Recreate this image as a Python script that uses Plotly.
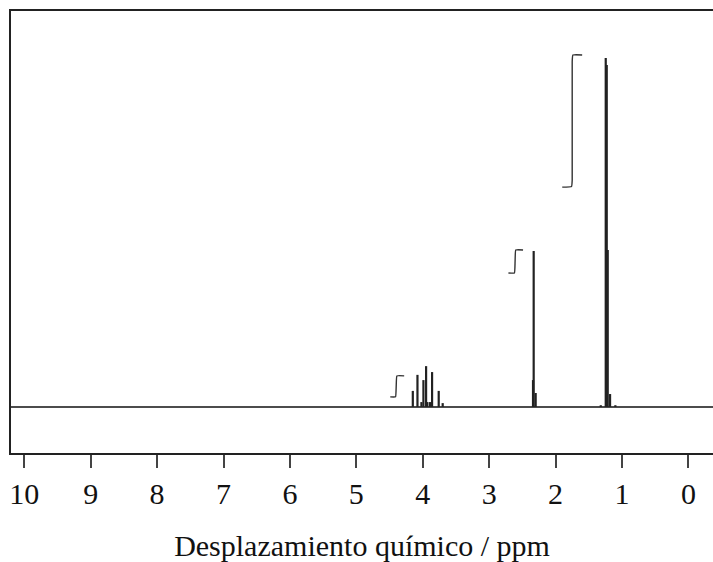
import plotly.graph_objects as go

# Peak positions (ppm) and intensities (arbitrary units, tallest ~100)
peak_ppm = [4.15, 4.08, 4.02, 3.99, 3.95, 3.93, 3.89, 3.86, 3.76, 3.70,
            2.34, 2.33, 2.30,
            1.32, 1.245, 1.23, 1.215, 1.18, 1.10]
peak_int = [4.6, 9.2, 1.4, 7.7, 11.7, 1.4, 1.4, 10.0, 4.6, 1.1,
            7.7, 44.7, 4.0,
            0.5, 100.0, 98.0, 45.0, 3.7, 0.5]

# Integration curves (ppm, integral height)
int1_x = [4.49, 4.41, 4.40, 4.39, 4.28]
int1_y = [2.9, 2.9, 5.9, 8.9, 8.9]
int2_x = [2.71, 2.62, 2.61, 2.60, 2.49]
int2_y = [38.4, 38.4, 41.7, 45.0, 45.0]
int3_x = [1.90, 1.76, 1.75, 1.75, 1.74, 1.60]
int3_y = [63.0, 63.2, 65.0, 99.0, 100.9, 100.9]

tick_vals = [10, 9, 8, 7, 6, 5, 4, 3, 2, 1, 0]
tick_text = ["10", "9", "8", "7", "6", "5", "4", "3", "2", "1", "0"]

x_range = [10.2, -0.37]
y_range = [-13.2, 113.5]

sx, sy = [], []
for p, h in zip(peak_ppm, peak_int):
    sx += [p, p, None]
    sy += [0, h, None]

fig = go.Figure()
# baseline
fig.add_trace(go.Scatter(x=x_range, y=[0, 0], mode="lines",
                         line=dict(color="#111", width=1.4), hoverinfo="skip"))
# peaks
fig.add_trace(go.Scatter(x=sx, y=sy, mode="lines",
                         line=dict(color="#222", width=2.2), hoverinfo="skip"))
for ix, iy in [(int1_x, int1_y), (int2_x, int2_y), (int3_x, int3_y)]:
    fig.add_trace(go.Scatter(x=ix, y=iy, mode="lines",
                             line=dict(color="#333", width=1.4, shape="spline",
                                       smoothing=0.3), hoverinfo="skip"))

fig.update_layout(
    width=713, height=562,
    margin=dict(l=11, r=0, t=11, b=109),
    paper_bgcolor="white", plot_bgcolor="white",
    showlegend=False,
    font=dict(family="Liberation Serif, Times New Roman, serif", color="#111"),
    xaxis=dict(range=x_range, tickvals=tick_vals, ticktext=tick_text,
               showgrid=False, zeroline=False, showline=True, mirror=True,
               linecolor="#222", linewidth=1.5,
               ticks="outside", ticklen=13, tickwidth=1.5, tickcolor="#444",
               tickfont=dict(size=30, color="#111"),
               title=dict(text="Desplazamiento químico / ppm",
                          font=dict(size=30, color="#111"), standoff=28)),
    yaxis=dict(range=y_range, showgrid=False, zeroline=False, showline=True,
               linecolor="#222", linewidth=1.5, showticklabels=False, ticks=""),
)

fig.write_html("out.html",
               config={"displayModeBar": False},
               post_script="document.body.style.margin='0';"
                           "document.body.style.overflow='hidden';")
